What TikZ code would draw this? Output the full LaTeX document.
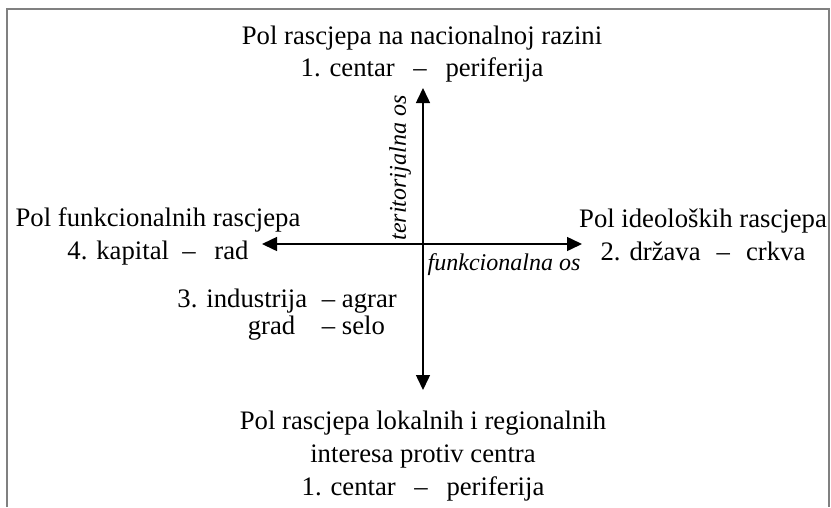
\documentclass[tikz,border=0pt]{standalone}
\usepackage{fontspec}
\setmainfont{Liberation Serif}
\usetikzlibrary{arrows.meta}

\begin{document}
\begin{tikzpicture}[x=1pt, y=-1pt,
    pole/.style={align=center, font=\fontsize{26.7}{33}\selectfont, inner sep=0pt},
    axislabel/.style={font=\fontsize{24}{28}\selectfont\itshape, inner sep=0pt},
    axis/.style={line width=1.5pt, -{Triangle[length=15pt, width=14pt]}},
    frame/.style={draw=gray, line width=2pt}]
    \useasboundingbox (0,0) rectangle (831,507);

    % Draw the open frame
    \draw[frame] (7,507) -- (7,9) -- (829,9) -- (829,507);

    % Define coordinates for the origin and the arrow tips
    \coordinate (O) at (423,244);
    \coordinate (N) at (423,88);
    \coordinate (S) at (423,390);
    \coordinate (W) at (262,244);
    \coordinate (E) at (582,244);

    % Draw the two axes
    \draw[axis] (O) -- (N);
    \draw[axis] (O) -- (S);
    \draw[axis] (O) -- (W);
    \draw[axis] (O) -- (E);

    % Label the axes
    \node[axislabel, rotate=90] (terit) at (400,168) {teritorijalna os};
    \node[axislabel] (funk) at (504,265) {funkcionalna os};

    % Label the four poles
    \node[pole, font=\fontsize{26.7}{32}\selectfont] (north) at (422,54) {Pol rascjepa na nacionalnoj razini\\
        1. centar\hspace{0.7em}\textendash\hspace{0.7em}periferija};
    \node[pole] (west) at (158,236) {Pol funkcionalnih rascjepa\\
        4. kapital\hspace{0.5em}\textendash\hspace{0.7em}rad};
    \node[pole] (east) at (703,235) {Pol ideoloških rascjepa\\
        2. država\hspace{0.6em}\textendash\hspace{0.6em}crkva};
    \node[pole] (south) at (423,456) {Pol rascjepa lokalnih i regionalnih\\
        interesa protiv centra\\
        1. centar\hspace{0.7em}\textendash\hspace{0.7em}periferija};

    % Optional: the third cleavage next to the lower axis
    \node[pole, anchor=east] (third) at (397,314) {%
        \begin{tabular}{@{}r@{\hspace{0.3em}}l@{}}
        3. industrija\hspace{0.25em} & \textendash\ agrar\\[-6pt]
        grad\hspace{0.7em} & \textendash\ selo
        \end{tabular}};
\end{tikzpicture}
\end{document}
